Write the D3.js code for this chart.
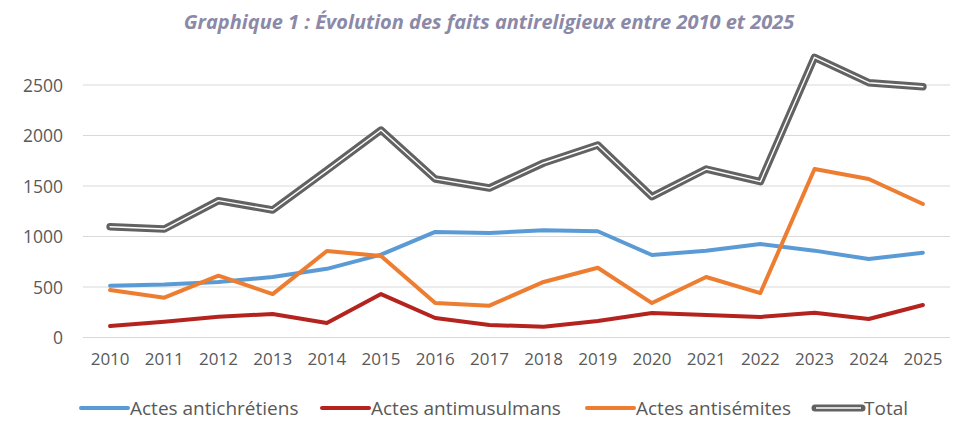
<!DOCTYPE html>
<html>
<head>
<meta charset="utf-8">
<script src="https://cdn.jsdelivr.net/npm/d3@7"></script>
<style>
  body { margin: 0; background: #fff; }
  svg { display: block; font-family: "Open Sans", sans-serif; }
</style>
</head>
<body>
<svg id="chart" width="960" height="431"></svg>
<script>
const years = ['2010', '2011', '2012', '2013', '2014', '2015', '2016', '2017', '2018', '2019', '2020', '2021', '2022', '2023', '2024', '2025'];
const chretiens = [513, 525, 550, 600, 680, 820, 1045, 1035, 1063, 1052, 817, 860, 925, 860, 777, 840];
const musulmans = [114, 157, 206, 233, 143, 430, 193, 124, 107, 163, 242, 222, 203, 246, 183, 322];
const semites = [470, 394, 612, 430, 856, 807, 341, 315, 550, 691, 341, 599, 440, 1668, 1569, 1322];
const total = [1097, 1074, 1355, 1262, 1655, 2054, 1570, 1480, 1728, 1906, 1394, 1668, 1543, 2774, 2523, 2483];
const yTicks = [0, 500, 1000, 1500, 2000, 2500];

const series = [
	{ name: 'Actes antichrétiens', values: chretiens, color: '#5b9bd5' },
	{ name: 'Actes antimusulmans', values: musulmans, color: '#b5231f' },
	{ name: 'Actes antisémites', values: semites, color: '#ed7d31' },
	{ name: 'Total', values: total, color: '#626262', double: true },
];

const svg = d3.select('#chart');
const left = 83, right = 950, y0 = 337.5, y2500 = 85;

const x = d3.scaleBand().domain(years).range([left, right]);
const y = d3.scaleLinear().domain([0, 2500]).range([y0, y2500]);

// title
svg.append('text')
	.attr('x', 489)
	.attr('y', 29)
	.attr('text-anchor', 'middle')
	.style('font-size', '20px')
	.style('font-weight', 'bold')
	.style('font-style', 'italic')
	.style('fill', '#8c89a8')
	.text('Graphique 1 : Évolution des faits antireligieux entre 2010 et 2025');

// grid
svg.append('g')
	.selectAll('line')
	.data(yTicks)
	.join('line')
	.attr('x1', left)
	.attr('x2', right)
	.attr('y1', (d) => y(d))
	.attr('y2', (d) => y(d))
	.style('stroke', '#d9d9d9')
	.style('stroke-width', 1);

// y axis labels
const yAxis = svg.append('g')
	.attr('transform', `translate(${left - 20},0)`)
	.call(d3.axisLeft(y).tickValues(yTicks).tickFormat(d3.format('d')).tickSize(0).tickPadding(0));
yAxis.select('.domain').remove();
yAxis.selectAll('text')
	.attr('dy', '0.35em')
	.style('font-size', '17.5px')
	.style('font-family', '"Open Sans", sans-serif')
	.style('fill', '#595959');

// x axis labels
const xAxis = svg.append('g')
	.attr('transform', `translate(0,${y0 + 12})`)
	.call(d3.axisBottom(x).tickSize(0).tickPadding(0));
xAxis.select('.domain').remove();
xAxis.selectAll('text')
	.attr('dy', '0.9em')
	.style('font-size', '17px')
	.style('font-family', '"Open Sans", sans-serif')
	.style('fill', '#595959');

const line = d3.line()
	.x((d, i) => x(years[i]) + x.bandwidth() / 2)
	.y((d) => y(d));

const lines = svg.append('g');
series.forEach((s) => {
	lines.append('path')
		.attr('d', line(s.values))
		.style('fill', 'none')
		.style('stroke', s.color)
		.style('stroke-width', s.double ? 7.5 : 4)
		.style('stroke-linejoin', 'round')
		.style('stroke-linecap', 'round');
	if (s.double) {
		lines.append('path')
			.attr('d', line(s.values))
			.style('fill', 'none')
			.style('stroke', '#ffffff')
			.style('stroke-width', 1.4)
			.style('stroke-linejoin', 'round')
			.style('stroke-linecap', 'round');
	}
});

// legend
const legendX = [81, 322, 587, 815];
const legend = svg.append('g').attr('transform', 'translate(0,408)');
series.forEach((s, i) => {
	const g = legend.append('g').attr('transform', `translate(${legendX[i]},0)`);
	g.append('line')
		.attr('x1', 0).attr('x2', 47)
		.style('stroke', s.color)
		.style('stroke-width', s.double ? 7 : 4)
		.style('stroke-linecap', 'round');
	if (s.double) {
		g.append('line')
			.attr('x1', 1).attr('x2', 46)
			.style('stroke', '#fff')
			.style('stroke-width', 1.5);
	}
	g.append('text')
		.attr('x', 49)
		.attr('dy', '0.35em')
		.style('font-size', '19px')
		.style('fill', '#595959')
		.text(s.name);
});
</script>
</body>
</html>
